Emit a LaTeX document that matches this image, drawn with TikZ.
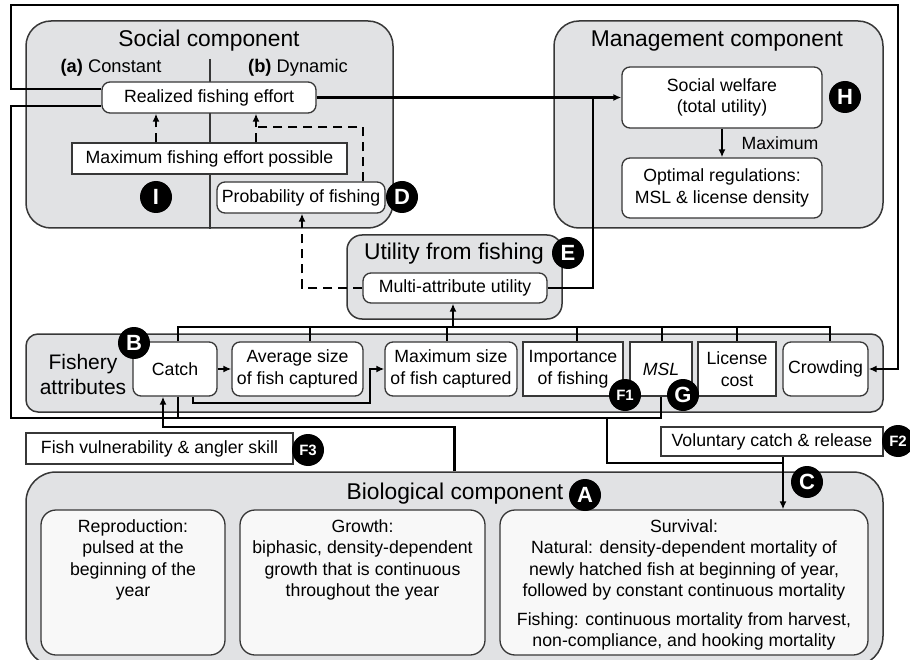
\documentclass[tikz,border=0pt]{standalone}
\usepackage{fontspec}
\setmainfont{Liberation Sans}
\usetikzlibrary{arrows.meta}

\definecolor{compfill}{RGB}{225,226,228}
\definecolor{biofill}{RGB}{248,248,248}
\definecolor{edgegray}{RGB}{55,55,55}
\newcommand\bodysize{\fontsize{17.7}{21.5}\selectfont}
\newcommand\titlesize{\fontsize{22.8}{27}\selectfont}

\tikzset{
	comp/.style={draw=edgegray, fill=compfill, line width=1.5pt, rounded corners=25pt, inner sep=0pt},
	wbox/.style={draw=edgegray, fill=white, line width=1.3pt, rounded corners=8pt, inner sep=0pt, align=center, font=\bodysize},
	sqbox/.style={wbox, sharp corners},
	biobox/.style={wbox, fill=biofill, rounded corners=15pt},
	title/.style={font=\titlesize, inner sep=0pt},
	plain/.style={font=\bodysize, inner sep=0pt, align=center},
	badge/.style={circle, fill=black, text=white, inner sep=0pt, minimum size=32pt, font=\fontsize{22}{22}\selectfont\bfseries},
	fbadge/.style={badge, font=\fontsize{15}{15}\selectfont\bfseries},
	link/.style={line width=2.6pt},
	dlink/.style={line width=2.4pt, dashed, dash pattern=on 9pt off 6pt},
	arrowed/.style={-{Latex[length=8pt,width=7pt]}}
}

\begin{document}
\begin{tikzpicture}[x=1pt, y=-1pt]
	\useasboundingbox (0,0) rectangle (910,660);
	\node[comp, minimum width=367pt, minimum height=207pt] (social) at (209.5,124.5) {};
	\node[comp, minimum width=329pt, minimum height=207pt] (manage) at (718.5,124.5) {};
	\node[comp, rounded corners=15pt, minimum width=215pt, minimum height=84pt] (utilbox) at (454.5,277) {};
	\node[comp, rounded corners=12pt, minimum width=857pt, minimum height=78pt] (fishery) at (454.5,373) {};
	\node[comp, rounded corners=30pt, minimum width=857pt, minimum height=194pt] (bio) at (454.5,569) {};

	\node[title] (socialT) at (209,41) {Social component};
	\node[title] (manageT) at (717,41) {Management component};
	\node[title] (utilT) at (454,254) {Utility from fishing};
	\node[title] (bioT) at (455,494) {Biological component};
	\node[font=\fontsize{21}{25}\selectfont, align=center, inner sep=0pt] (fishT) at (83,374) {Fishery\\attributes};
	\node[plain, font=\fontsize{18.3}{22}\selectfont] (constT) at (111,68) {\textbf{(a)} Constant};
	\node[plain, font=\fontsize{18.3}{22}\selectfont] (dynT) at (298,68) {\textbf{(b)} Dynamic};
	\draw[edgegray, line width=1.3pt] (210,59) -- (210,0 |- social.south);

	% social and management
	\node[wbox, minimum width=214pt, minimum height=31pt] (realized) at (209,97.5) {Realized fishing effort};
	\node[sqbox, minimum width=275pt, minimum height=31pt] (maxeff) at (209.5,158.5) {Maximum fishing effort possible};
	\node[wbox, minimum width=168pt, minimum height=31pt] (prob) at (301,197.5) {Probability of fishing};
	\node[wbox, minimum width=200pt, minimum height=61pt] (welfare) at (722,97.5) {Social welfare\\(total utility)};
	\node[wbox, minimum width=200pt, minimum height=60pt] (optimal) at (722,188) {Optimal regulations:\\MSL \& license density};
	\node[plain] (maxlbl) at (780,143) {Maximum};
	\node[wbox, minimum width=184pt, minimum height=30pt] (multi) at (455,288) {Multi-attribute utility};

	% fishery attributes
	\node[wbox, minimum width=84pt, minimum height=54pt] (catch) at (175,369) {Catch};
	\node[wbox, minimum width=131pt, minimum height=54pt] (avg) at (297.5,369) {Average size\\of fish captured};
	\node[wbox, minimum width=132pt, minimum height=54pt] (maxsz) at (451,369) {Maximum size\\of fish captured};
	\node[sqbox, minimum width=100pt, minimum height=54pt] (imp) at (573,369) {Importance\\of fishing};
	\node[sqbox, minimum width=62pt, minimum height=54pt] (msl) at (661,369) {\textit{MSL}};
	\node[sqbox, minimum width=78pt, minimum height=54pt] (lic) at (737,369) {License\\cost};
	\node[wbox, minimum width=85pt, minimum height=54pt] (crowd) at (825.5,369) {Crowding};
	\node[sqbox, minimum width=267pt, minimum height=31pt] (vuln) at (159.5,448.5) {Fish vulnerability \& angler skill};
	\node[sqbox, minimum width=222pt, minimum height=29pt] (vol) at (772,441.5) {Voluntary catch \& release};

	% biological
	\node[biobox, minimum width=184pt, minimum height=145pt] (repro) at (133,582.5) {};
	\node[biobox, minimum width=245pt, minimum height=145pt] (growth) at (362.5,582.5) {};
	\node[biobox, minimum width=368pt, minimum height=145pt] (surv) at (684,582.5) {};
	\node[plain, anchor=north] (reproT) at (133,519) {Reproduction:\\pulsed at the\\beginning of the\\year};
	\node[plain, anchor=north] (growthT) at (362.5,519) {Growth:\\biphasic, density-dependent\\growth that is continuous\\throughout the year};
	\node[plain, anchor=north] (survT) at (684,519) {Survival:\\Natural: density-dependent mortality of\\newly hatched fish at beginning of year,\\followed by constant continuous mortality\\[7pt]Fishing: continuous mortality from harvest,\\non-compliance, and hooking mortality};

	% connectors
	\draw[link, arrowed] ([yshift=8.5pt]realized.west) -| (11,5) -- (898,5) |- (crowd.east);
	\draw[link] ([yshift=-8.5pt]realized.west) -| (11,418) -| (msl.south);
	\draw[link] (178,0 |- catch.south) -- (178,418);
	\draw[link] (607,418) |- (783,463);
	\draw[link, arrowed] (783,0 |- vol.south) -- (783,0 |- surv.north);
	\draw[link, arrowed] (bio.north) |- (163,427) -- (163,0 |- catch.south);
	\draw[link, arrowed] (realized.east) -- (welfare.west);
	\draw[link] (multi.east) -| (593,0 |- welfare.west);
	\draw[link, arrowed] (welfare.south) -- (optimal.north);
	\draw[link] (178,0 |- catch.north) -- (178,327) -- (830,327) -- (830,0 |- crowd.north);
	\foreach \x/\n in {310/avg, 447/maxsz, 577/imp, 662/msl, 737/lic}
		\draw[link] (\x,327) -- (\x,0 |- \n.north);
	\draw[link, arrowed] (453,327) -- (453,0 |- multi.south);
	\draw[link, arrowed] (catch.east) -- (avg.west);
	\draw[link, arrowed] (193,0 |- catch.south) |- (370,403) |- (maxsz.west);
	\draw[dlink, arrowed] (156,0 |- maxeff.north) -- (156,0 |- realized.south);
	\draw[dlink, arrowed] (256,0 |- maxeff.north) -- (256,0 |- realized.south);
	\draw[dlink] (363,0 |- prob.north) |- (256,127);
	\draw[dlink, arrowed] (multi.west) -| (302,0 |- prob.south);

	% letters
	\node[badge] (tagI) at (156,197) {I};
	\node[badge] (tagD) at (402,197) {D};
	\node[badge] (tagH) at (845,97) {H};
	\node[badge] (tagE) at (568,253) {E};
	\node[badge] (tagB) at (134,343) {B};
	\node[fbadge] (tagFone) at (625,395) {F1};
	\node[badge] (tagG) at (683,395) {G};
	\node[fbadge] (tagFthree) at (308,450) {F3};
	\node[fbadge] (tagFtwo) at (898,441) {F2};
	\node[badge] (tagC) at (807,482) {C};
	\node[badge] (tagA) at (585,495) {A};
\end{tikzpicture}
\end{document}
